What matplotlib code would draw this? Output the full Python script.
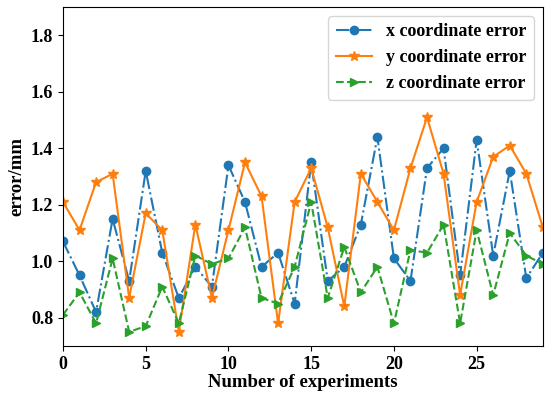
import numpy as np
import matplotlib.pyplot as plt

plt.rcParams['font.family'] = ['Liberation Serif', 'DejaVu Serif']
plt.rcParams['font.weight'] = 'bold'

# experiment index
experiments = np.arange(30)

# errors in mm
x_error = [1.07, 0.95, 0.82, 1.15, 0.93, 1.32, 1.03, 0.87, 0.98, 0.91,
           1.34, 1.21, 0.98, 1.03, 0.85, 1.35, 0.93, 0.98, 1.13, 1.44,
           1.01, 0.93, 1.33, 1.40, 0.95, 1.43, 1.02, 1.32, 0.94, 1.03]
y_error = [1.21, 1.11, 1.28, 1.31, 0.87, 1.17, 1.11, 0.75, 1.13, 0.87,
           1.11, 1.35, 1.23, 0.78, 1.21, 1.33, 1.12, 0.84, 1.31, 1.21,
           1.11, 1.33, 1.51, 1.31, 0.88, 1.21, 1.37, 1.41, 1.31, 1.12]
z_error = [0.81, 0.89, 0.78, 1.01, 0.75, 0.77, 0.91, 0.78, 1.02, 0.99,
           1.01, 1.12, 0.87, 0.85, 0.98, 1.21, 0.87, 1.05, 0.89, 0.98,
           0.78, 1.04, 1.03, 1.13, 0.78, 1.11, 0.88, 1.10, 1.02, 0.99]

fig = plt.figure(figsize=(5.5, 3.99), dpi=100)
ax = fig.add_axes([0.1145, 0.133, 0.8725, 0.849])

ax.plot(experiments, x_error, linestyle='-.', marker='o', markersize=6,
        color='#1f77b4', label='x coordinate error')
ax.plot(experiments, y_error, linestyle='-', marker='*', markersize=7,
        color='#ff7f0e', label='y coordinate error')
ax.plot(experiments, z_error, linestyle='--', marker='>', markersize=6,
        color='#2ca02c', label='z coordinate error')

ax.set_xlim(0, 29)
ax.set_ylim(0.7, 1.9)
ax.set_xticks([0, 5, 10, 15, 20, 25])
ax.set_yticks([0.8, 1.0, 1.2, 1.4, 1.6, 1.8])
ax.tick_params(labelsize=13)
for lab in ax.get_xticklabels() + ax.get_yticklabels():
    lab.set_fontweight('bold')

ax.set_xlabel('Number of experiments', fontsize=13.5, fontweight='bold', labelpad=1)
ax.set_ylabel('error/mm', fontsize=13.5, fontweight='bold', labelpad=4)

leg = ax.legend(loc='upper right', prop={'size': 13, 'weight': 'bold'})

fig.savefig('out.png', dpi=100)
